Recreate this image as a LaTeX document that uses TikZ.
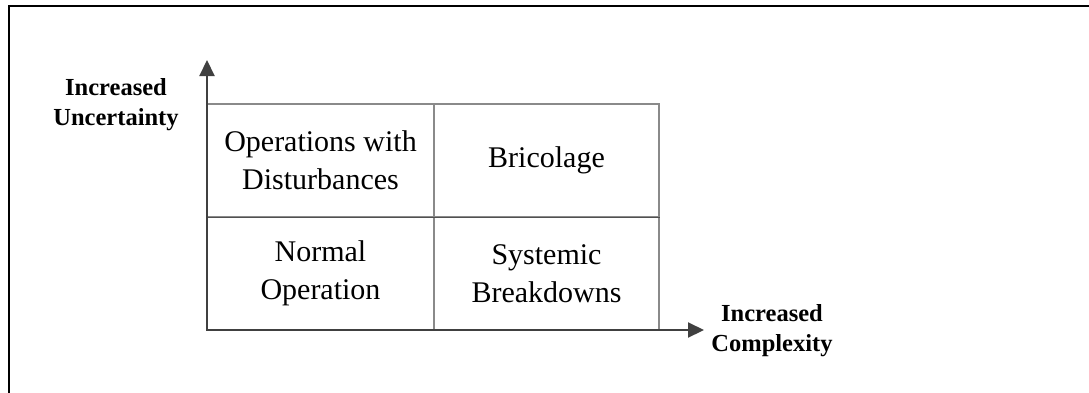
\documentclass[tikz,border=0pt]{standalone}
\usepackage{fontspec}
\setmainfont{Liberation Serif}
\usetikzlibrary{arrows.meta}
\definecolor{axisgray}{HTML}{404040}
\definecolor{gridgray}{HTML}{8A8A8A}
\definecolor{midgray}{HTML}{505050}
\begin{document}
\begin{tikzpicture}[x=1pt,y=-1pt,
  cell/.style={draw=gridgray, line width=1.1pt, inner sep=0pt, align=center,
    minimum height=113pt, font=\fontsize{30}{38}\selectfont},
  axislabel/.style={align=center, inner sep=0pt,
    font=\fontsize{24.5}{30}\selectfont\bfseries},
  axisline/.style={draw=axisgray, line width=2.1pt, line join=miter,
    {Triangle[length=16pt,width=15pt,fill=axisgray]}-{Triangle[length=16pt,width=15pt,fill=axisgray]}},
  frameline/.style={draw=black, line width=2.4pt}]
  \useasboundingbox (0,0) rectangle (1089,392);
  \clip (0,0) rectangle (1089,392);

  % outer frame
  \draw[frameline] (9,420) -- (9,6) -- (1120,6);

  % quadrant cells
  \node[cell, minimum width=227pt] (tl) at (320.5,160.5) {Operations with\\Disturbances};
  \node[cell, minimum width=225pt] (tr) at (546.5,160.5) {Bricolage};
  \node[cell, minimum width=227pt] (bl) at (320.5,273.5) {Normal\\Operation};
  \node[cell, minimum width=225pt] (br) at (546.5,273.5) {Systemic\\Breakdowns};

  % darker middle divider
  \draw[draw=midgray, line width=1.3pt] (tl.south west) -- (tr.south east);

  % axes
  \coordinate (origin) at (207,330);
  \coordinate (ytip) at (207,60);
  \coordinate (xtip) at (704,330);
  \draw[axisline] (ytip) -- (origin) -- (xtip);

  % axis labels
  \node[axislabel] (ylab) at (116,104.5) {Increased\\Uncertainty};
  \node[axislabel] (xlab) at (772,331) {Increased\\Complexity};
\end{tikzpicture}
\end{document}
